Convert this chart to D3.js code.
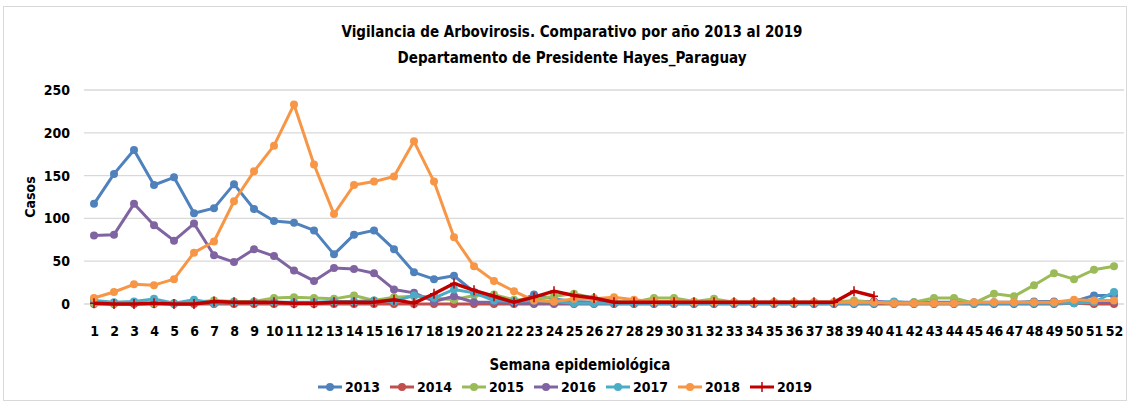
<!DOCTYPE html>
<html>
<head>
<meta charset="utf-8">
<script src="https://cdn.jsdelivr.net/npm/d3@7"></script>
<style>
  body { margin: 0; background: #fff; }
  text { font-family: "Liberation Sans Narrow", "DejaVu Sans Condensed", "Roboto", sans-serif; font-weight: bold; fill: #000; }
</style>
</head>
<body>
<script>
// semanas epidemiologicas 1..52
const weeks = d3.range(1, 53);
const years = ["2013", "2014", "2015", "2016", "2017", "2018", "2019"];
const colors = ["#4F81BD", "#C0504D", "#9BBB59", "#8064A2", "#4BACC6", "#F79646", "#C00000"];
const yTicks = [0, 50, 100, 150, 200, 250];

const s2013 = [117,152,180,139,148,106,112,140,111,97,95,86,58,81,86,64,37,29,33,14,5,1,11,6,3,2,2,2,2,2,2,2,2,2,2,2,2,2,2,3,2,2,2,2,2,2,2,3,3,3,10,10];
const s2014 = [0,0,0,0,0,0,0,0,0,0,0,0,0,0,0,0,0,0,0,0,0,0,0,0,0,0,0,0,0,0,0,0,0,0,0,0,0,0,0,0,0,0,0,0,0,0,0,0,0,1,0,0];
const s2015 = [1,1,2,1,1,2,4,3,3,7,8,7,6,10,4,8,9,7,5,10,11,5,5,9,12,7,3,2,7,7,3,6,2,2,2,2,2,2,4,2,1,2,7,7,1,12,9,22,36,29,40,44];
const s2016 = [80,81,117,92,74,94,57,49,64,56,39,27,42,41,36,17,13,3,9,2,2,1,1,1,1,1,1,1,1,1,1,1,1,1,1,1,1,1,1,3,1,1,1,1,1,1,1,1,2,2,2,3];
const s2017 = [4,2,3,6,1,5,1,2,2,2,2,2,3,3,4,3,10,7,17,13,4,3,4,3,1,1,1,1,1,1,1,1,1,1,1,1,1,1,1,1,3,1,1,1,1,1,1,1,1,1,2,14];
const s2018 = [7,14,23,22,29,60,73,120,155,185,233,163,105,139,143,149,190,143,78,44,27,15,4,3,6,6,8,5,3,3,2,2,2,2,2,2,2,2,2,2,1,1,1,1,2,2,2,2,2,5,4,4];
const s2019 = [1,0,0,1,0,0,3,2,2,2,1,1,2,2,2,5,1,12,24,16,9,2,8,15,10,7,2,2,2,2,2,2,2,2,2,2,2,2,15,9];

const series = [s2013, s2014, s2015, s2016, s2017, s2018, s2019];

const width = 1130, height = 404;
const margin = { left: 84, right: 6, top: 90, bottom: 100 };

const svg = d3.select("body").append("svg")
  .attr("width", width)
  .attr("height", height);

// chart frame
svg.append("rect")
  .attr("x", 3.5).attr("y", 6.5)
  .attr("width", width - 7).attr("height", height - 10)
  .attr("fill", "#fff")
  .attr("stroke", "#D9D9D9");

const x = d3.scalePoint()
  .domain(weeks)
  .range([margin.left + 10, width - margin.right - 10]);

const y = d3.scaleLinear()
  .domain([0, 250])
  .range([304, 90]);

// gridlines
svg.append("g")
  .selectAll("line")
  .data(yTicks)
  .enter().append("line")
  .attr("x1", margin.left)
  .attr("x2", width - margin.right)
  .attr("y1", d => y(d))
  .attr("y2", d => y(d))
  .attr("stroke", "#D9D9D9")
  .attr("stroke-width", 1.3);

// y axis labels
const yAxis = svg.append("g")
  .attr("transform", `translate(${margin.left - 6},0)`)
  .call(d3.axisLeft(y).tickValues(yTicks).tickSize(0).tickPadding(8));
yAxis.select(".domain").remove();
yAxis.selectAll("text").style("font-size", "14px").style("font-family", null);

// x axis labels
const xAxis = svg.append("g")
  .attr("transform", `translate(0,${y(0)})`)
  .call(d3.axisBottom(x).tickSize(0).tickPadding(22));
xAxis.select(".domain").remove();
xAxis.selectAll("text").style("font-size", "14px").style("font-family", null);

// axis titles
svg.append("text")
  .attr("transform", "translate(35,197) rotate(-90)")
  .attr("text-anchor", "middle")
  .style("font-size", "14px")
  .text("Casos");

svg.append("text")
  .attr("x", 580).attr("y", 370)
  .attr("text-anchor", "middle")
  .style("font-size", "15px")
  .text("Semana epidemiológica");

// title
svg.append("text")
  .attr("x", 572).attr("y", 37)
  .attr("text-anchor", "middle")
  .style("font-size", "15px")
  .text("Vigilancia de Arbovirosis. Comparativo por año 2013 al 2019");
svg.append("text")
  .attr("x", 572).attr("y", 63)
  .attr("text-anchor", "middle")
  .style("font-size", "15px")
  .text("Departamento de Presidente Hayes_Paraguay");

const line = d3.line()
  .x((d, i) => x(weeks[i]))
  .y(d => y(d));

const plusPath = "M-4,0H4M0,-5V5";

series.forEach((vals, k) => {
  const g = svg.append("g");
  g.append("path")
    .datum(vals)
    .attr("d", line)
    .attr("fill", "none")
    .attr("stroke", colors[k])
    .attr("stroke-width", k === 6 ? 3.5 : 3)
    .attr("stroke-linejoin", "round");
  if (k === 6) {
    g.selectAll("path.m")
      .data(vals)
      .enter().append("path")
      .attr("class", "m")
      .attr("transform", (d, i) => `translate(${x(weeks[i])},${y(d)})`)
      .attr("d", plusPath)
      .attr("stroke", colors[k])
      .attr("stroke-width", 1.5);
  } else {
    g.selectAll("circle")
      .data(vals)
      .enter().append("circle")
      .attr("cx", (d, i) => x(weeks[i]))
      .attr("cy", d => y(d))
      .attr("r", 4)
      .attr("fill", colors[k]);
  }
});

// legend
const legend = svg.append("g")
  .attr("transform", "translate(318,387)");
years.forEach((yr, k) => {
  const lg = legend.append("g").attr("transform", `translate(${k * 72},0)`);
  lg.append("line")
    .attr("x1", 0).attr("x2", 24)
    .attr("stroke", colors[k])
    .attr("stroke-width", 3);
  if (k === 6) {
    lg.append("path").attr("transform", "translate(12,0)").attr("d", plusPath)
      .attr("stroke", colors[k]).attr("stroke-width", 1.5);
  } else {
    lg.append("circle").attr("cx", 12).attr("r", 4).attr("fill", colors[k]);
  }
  lg.append("text")
    .attr("x", 27).attr("y", 5)
    .style("font-size", "14px")
    .text(yr);
});
</script>
</body>
</html>
